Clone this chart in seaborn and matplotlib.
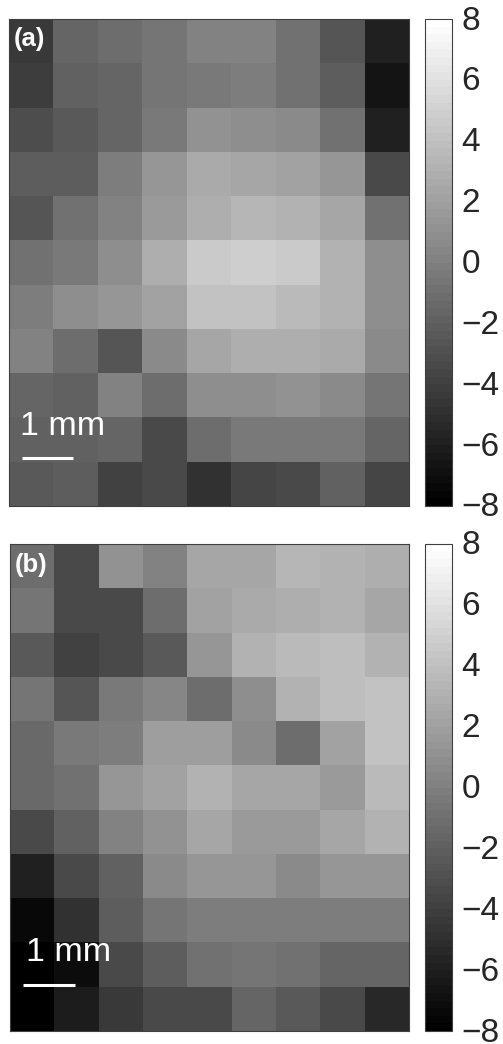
import numpy as np
import matplotlib
matplotlib.use("Agg")
import matplotlib.pyplot as plt
from matplotlib.transforms import ScaledTranslation
import seaborn as sns

sns.set_theme(style="white")
plt.rcParams['font.family'] = ['Liberation Sans', 'DejaVu Sans']

panel_a = [
    [-4.5, -1.7, -1.2, -0.6, 0.2, 0.2, -0.8, -2.7, -6.0],
    [-4.2, -2.0, -1.6, -0.6, -0.3, -0.2, -0.8, -2.2, -6.7],
    [-3.1, -2.5, -1.6, -0.5, 1.1, 0.8, 0.5, -0.8, -6.0],
    [-2.2, -2.2, -0.2, 1.4, 2.5, 2.4, 2.0, 1.4, -3.3],
    [-2.7, -1.0, 0.0, 1.7, 2.8, 3.4, 3.2, 2.4, -1.0],
    [-0.8, -0.3, 0.8, 2.9, 4.5, 4.8, 4.6, 3.2, 0.8],
    [-0.2, 0.8, 1.4, 2.0, 4.0, 4.0, 3.5, 3.0, 0.8],
    [0.0, -1.1, -2.7, 0.5, 2.4, 2.8, 2.8, 2.5, 0.5],
    [-1.7, -1.9, 0.0, -1.1, 0.8, 0.8, 1.1, 0.5, -0.6],
    [-1.9, -1.9, -1.7, -3.3, -1.2, -0.5, -0.3, -0.3, -1.7],
    [-2.5, -2.2, -3.9, -3.5, -4.9, -3.6, -3.5, -2.0, -3.6],
]
panel_b = [
    [-1.2, -3.3, 1.1, 0.2, 2.4, 2.4, 3.3, 3.0, 2.8],
    [-0.6, -3.3, -3.5, -1.2, 2.0, 2.5, 2.8, 3.2, 2.4],
    [-2.4, -3.9, -3.5, -2.4, 1.4, 3.0, 3.5, 3.8, 3.0],
    [-0.6, -2.7, -0.3, 0.3, -1.1, 0.8, 3.2, 3.8, 4.0],
    [-1.4, -0.3, -0.2, 1.9, 1.9, 0.5, -1.1, 2.0, 4.0],
    [-1.4, -0.8, 1.4, 2.0, 3.0, 2.4, 2.4, 1.7, 3.6],
    [-3.5, -2.0, 0.2, 1.1, 2.4, 1.5, 1.5, 2.4, 3.2],
    [-5.8, -3.5, -2.0, 0.5, 1.4, 1.4, 0.5, 1.4, 1.4],
    [-7.4, -4.9, -2.2, -0.6, -0.2, -0.2, -0.2, -0.2, -0.2],
    [-7.9, -7.1, -3.3, -2.2, -1.0, -0.6, -1.0, -1.7, -1.7],
    [-8.0, -6.2, -4.5, -3.3, -3.5, -1.7, -2.5, -3.5, -5.4],
]
panel_labels = ["(a)", "(b)"]
cbar_ticks = [8, 6, 4, 2, 0, -2, -4, -6, -8]
tick_labels = ["8", "6", "4", "2", "0", "\u22122", "\u22124", "\u22126", "\u22128"]
scale_label = "1 mm"

W, H = 503, 1044
fig = plt.figure(figsize=(W / 100, H / 100), dpi=100, facecolor="white")


def box(x0, y0, x1, y1):
    return [x0 / W, 1 - y1 / H, (x1 - x0) / W, (y1 - y0) / H]


layout = [
    dict(ax=(9, 19, 409, 506), cb=(425, 19, 452, 506), lab=(0.1, 0.45),
         txt=(1.2, 9.2), bar=(0.29, 1.44, 9.92)),
    dict(ax=(10, 544, 409, 1031), cb=(425, 544, 452, 1031), lab=(0.1, 0.47),
         txt=(1.32, 9.22), bar=(0.29, 1.46, 9.95)),
]
cmap = plt.get_cmap("gray", 64)

for data, label, lay in zip([panel_a, panel_b], panel_labels, layout):
    ax = fig.add_axes(box(*lay["ax"]))
    cax = fig.add_axes(box(*lay["cb"]))
    sns.heatmap(np.array(data), ax=ax, cbar_ax=cax, cmap=cmap, vmin=-8, vmax=8,
                xticklabels=False, yticklabels=False, linewidths=0,
                cbar_kws=dict(ticks=cbar_ticks))
    for s in ax.spines.values():
        s.set_visible(True)
        s.set_color("#404040")
        s.set_linewidth(0.8)
    ax.text(*lay["lab"], label, color="white", fontsize=18.5, fontweight="bold",
            ha="left", va="center")
    ax.text(*lay["txt"], scale_label, color="white", fontsize=24.5,
            ha="center", va="center")
    x0, x1, y = lay["bar"]
    ax.plot([x0, x1], [y, y], color="white", lw=2.2, solid_capstyle="butt")

    cb = ax.collections[0].colorbar
    cb.outline.set_edgecolor("#404040")
    cb.outline.set_linewidth(0.8)
    cax.yaxis.set_ticks_position("right")
    cax.set_yticks(cbar_ticks)
    cax.set_yticklabels(tick_labels)
    cax.tick_params(axis="y", direction="in", length=3, width=0.7, color="#404040",
                    labelsize=24, labelcolor="#262626", pad=7, right=True, left=False)
    shift = ScaledTranslation(0, -2 / 100, fig.dpi_scale_trans)
    for t in cax.get_yticklabels():
        t.set_va("center")
        t.set_transform(t.get_transform() + shift)

fig.savefig("out.png", dpi=100, facecolor="white")
